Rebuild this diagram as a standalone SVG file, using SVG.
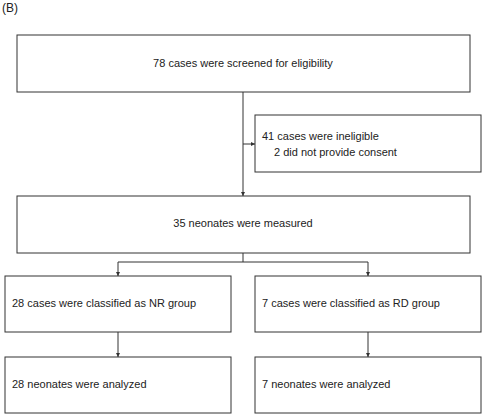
<svg xmlns="http://www.w3.org/2000/svg" width="485" height="417" viewBox="0 0 485 417">
<style>
.box{fill:#fff;stroke:#333;stroke-width:1}
text{font-family:"Liberation Sans",Arial,sans-serif;font-size:11px;fill:#222}
.c{stroke:#333;stroke-width:1;fill:none}
</style>
<defs>
<marker id="ah" markerWidth="4" markerHeight="4" refX="4" refY="2" orient="auto" markerUnits="userSpaceOnUse">
<path d="M0,0 L4,2 L0,4 Z" fill="#333"/>
</marker>
</defs>
<rect width="485" height="417" fill="#fff"/>
<text x="2" y="12" style="font-size:12px">(B)</text>
<g id="n1"><rect class="box" x="17" y="35" width="453" height="57"/><text x="243" y="67" text-anchor="middle">78 cases were screened for eligibility</text></g>
<g id="n2"><rect class="box" x="255" y="115" width="226" height="57"/><text x="262" y="140">41 cases were ineligible</text><text x="274" y="156">2 did not provide consent</text></g>
<g id="n3"><rect class="box" x="17" y="196" width="453" height="57"/><text x="243" y="227" text-anchor="middle">35 neonates were measured</text></g>
<g id="n4"><rect class="box" x="5" y="276" width="226" height="56"/><text x="12" y="307">28 cases were classified as NR group</text></g>
<g id="n5"><rect class="box" x="255" y="276" width="226" height="56"/><text x="262" y="307">7 cases were classified as RD group</text></g>
<g id="n6"><rect class="box" x="5" y="357" width="226" height="56"/><text x="12" y="388">28 neonates were analyzed</text></g>
<g id="n7"><rect class="box" x="255" y="357" width="226" height="56"/><text x="262" y="388">7 neonates were analyzed</text></g>
<g id="connectors">
<path class="c" d="M243,92 V196" marker-end="url(#ah)"/>
<path class="c" d="M243,144 H255" marker-end="url(#ah)"/>
<path class="c" d="M243,253 V262 M118,262 H368"/>
<path class="c" d="M118,262 V276" marker-end="url(#ah)"/>
<path class="c" d="M368,262 V276" marker-end="url(#ah)"/>
<path class="c" d="M118,332 V357" marker-end="url(#ah)"/>
<path class="c" d="M368,332 V357" marker-end="url(#ah)"/>
</g>
</svg>
